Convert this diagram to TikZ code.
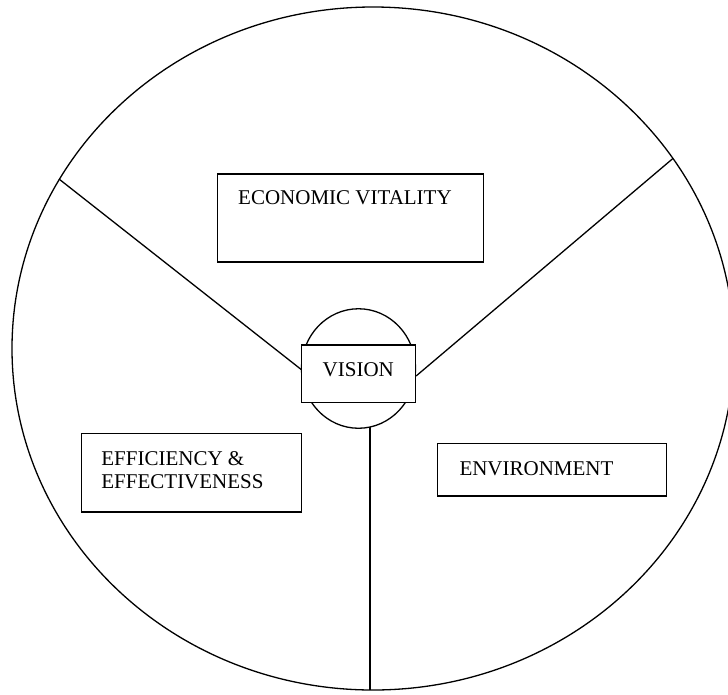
\documentclass[tikz,border=0pt]{standalone}
\usepackage{fontspec}
\setmainfont{Liberation Serif}
\usetikzlibrary{calc,shapes.geometric}
\begin{document}
\begin{tikzpicture}[x=1pt,y=-1pt,
  stroke/.style={line width=1.3pt,black},
  box/.style={stroke,draw,fill=white,rectangle,inner sep=0pt},
  lbl/.style={inner sep=0pt,anchor=base west,font=\fontsize{21}{24}\selectfont}]
  \useasboundingbox (0,0) rectangle (728,694);

  % outer oval split into three sectors
  \draw[stroke] (373,348.5) ellipse [x radius=361, y radius=341.5];

  % hub: round shape behind the VISION box
  \node[stroke,draw,ellipse,minimum width=114pt,minimum height=119.5pt,inner sep=0pt] (hub) at (358.5,368.5) {};

  % spoke end points on the outer oval
  \coordinate (rimL) at (59,179);
  \coordinate (rimR) at (673,158.4);
  \coordinate (rimB) at (370,690);

  % sector boxes
  \node[box,minimum width=266pt,minimum height=88pt] (econ) at (350.7,218) {};
  \node[box,minimum width=220.6pt,minimum height=78.4pt] (eff) at (191.5,472.8) {};
  \node[box,minimum width=229pt,minimum height=52.2pt] (env) at (552.25,469.9) {};
  \node[box,minimum width=113.7pt,minimum height=57.7pt] (vision) at (358.65,373.85) {};

  % spokes
  \draw[stroke] (rimL) -- ($(vision.west)+(0,-4.4)$);
  \draw[stroke] (rimR) -- ($(vision.east)+(0,2.1)$);
  \draw[stroke] (hub.south -| rimB) ++(0,-2) -- (rimB);

  % labels
  \node[lbl] (econT) at (238,204.5) {ECONOMIC VITALITY};
  \node[lbl,anchor=base] (visT) at (358.3,376) {VISION};
  \node[lbl] (effT1) at (101.2,465) {EFFICIENCY \&};
  \node[lbl] (effT2) at (101.2,488.3) {EFFECTIVENESS};
  \node[lbl] (envT) at (459.3,475) {ENVIRONMENT};
\end{tikzpicture}
\end{document}
